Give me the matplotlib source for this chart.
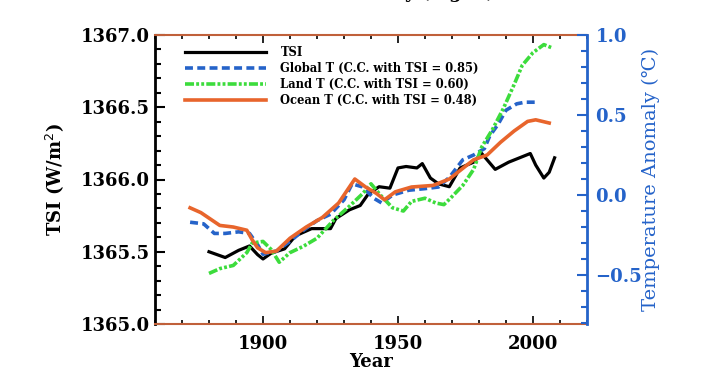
import matplotlib
matplotlib.use("Agg")
import matplotlib.pyplot as plt
from matplotlib.ticker import MultipleLocator

# TSI series (W/m^2)
tsi_years = [1880, 1886, 1891, 1895, 1898, 1900, 1903, 1908, 1912, 1918, 1922, 1925,
             1927, 1932, 1936, 1939, 1943, 1947, 1950, 1953, 1957, 1959, 1962, 1965,
             1969, 1973, 1978, 1981, 1986, 1991, 1995, 1999, 2001, 2004, 2006, 2008]
tsi_vals = [1365.50, 1365.46, 1365.51, 1365.54, 1365.48, 1365.45, 1365.49, 1365.52,
            1365.61, 1365.66, 1365.66, 1365.66, 1365.73, 1365.79, 1365.82, 1365.90,
            1365.95, 1365.94, 1366.08, 1366.09, 1366.08, 1366.11, 1366.01, 1365.97,
            1365.95, 1366.08, 1366.12, 1366.18, 1366.07, 1366.12, 1366.15, 1366.18,
            1366.10, 1366.01, 1366.05, 1366.15]

# temperature anomalies (deg C)
glob_years = [1873, 1878, 1882, 1886, 1891, 1895, 1898, 1900, 1905, 1910, 1915, 1920,
              1925, 1930, 1933, 1937, 1941, 1944, 1948, 1954, 1960, 1965, 1969, 1974,
              1978, 1982, 1984, 1987, 1990, 1994, 1997, 2001]
glob_vals = [-0.17, -0.18, -0.24, -0.24, -0.23, -0.24, -0.31, -0.37, -0.35, -0.29,
             -0.22, -0.16, -0.12, -0.03, 0.07, 0.05, -0.02, -0.05, 0.00, 0.03, 0.04,
             0.05, 0.11, 0.22, 0.25, 0.29, 0.37, 0.44, 0.53, 0.57, 0.58, 0.58]

land_years = [1880, 1884, 1889, 1894, 1896, 1900, 1903, 1906, 1910, 1915, 1920, 1926,
              1932, 1937, 1940, 1944, 1948, 1952, 1955, 1960, 1964, 1967, 1970, 1974,
              1978, 1981, 1985, 1989, 1993, 1996, 2000, 2004, 2007]
land_vals = [-0.49, -0.46, -0.44, -0.36, -0.30, -0.29, -0.34, -0.42, -0.36, -0.32,
             -0.27, -0.16, -0.07, 0.01, 0.07, -0.01, -0.08, -0.10, -0.04, -0.02, -0.05,
             -0.06, -0.01, 0.06, 0.16, 0.30, 0.41, 0.54, 0.69, 0.81, 0.89, 0.94, 0.92]

ocean_years = [1873, 1877, 1884, 1889, 1894, 1896, 1898, 1901, 1905, 1910, 1916, 1922,
               1928, 1934, 1938, 1942, 1945, 1949, 1955, 1963, 1969, 1975, 1978, 1983,
               1988, 1993, 1998, 2001, 2006]
ocean_vals = [-0.08, -0.11, -0.19, -0.20, -0.22, -0.28, -0.33, -0.36, -0.35, -0.27,
              -0.20, -0.14, -0.05, 0.10, 0.05, 0.01, -0.03, 0.02, 0.05, 0.06, 0.10,
              0.18, 0.22, 0.25, 0.33, 0.40, 0.46, 0.47, 0.45]

labels = ["TSI",
          "Global T (C.C. with TSI = 0.85)",
          "Land T (C.C. with TSI = 0.60)",
          "Ocean T (C.C. with TSI = 0.48)"]

blue = "#2563c9"
green = "#3cdc3c"
orange = "#e8652c"
frame_c = "#c0603a"
serif = ["DejaVu Serif"]

fig = plt.figure(figsize=(7.06, 3.91), dpi=100)
ax = fig.add_axes([155 / 706, 1 - 324 / 391, 432 / 706, 289 / 391])
ax2 = ax.twinx()

l0, = ax.plot(tsi_years, tsi_vals, color="black", lw=2.3)
l1, = ax2.plot(glob_years, glob_vals, color=blue, lw=2.6, ls=(0, (2.2, 1.2)))
l2, = ax2.plot(land_years, land_vals, color=green, lw=2.6, ls=(0, (2.5, 0.6, 0.8, 0.6, 0.8, 0.6)))
l3, = ax2.plot(ocean_years, ocean_vals, color=orange, lw=2.6)

ax.set_xlim(1860, 2020)
ax.set_ylim(1365.0, 1367.0)
ax2.set_ylim(-0.806, 1.0)

ax.xaxis.set_major_locator(MultipleLocator(50))
ax.xaxis.set_minor_locator(MultipleLocator(10))
ax.yaxis.set_major_locator(MultipleLocator(0.5))
ax.yaxis.set_minor_locator(MultipleLocator(0.1))
ax2.yaxis.set_major_locator(MultipleLocator(0.5))
ax2.yaxis.set_minor_locator(MultipleLocator(0.1))

ax.tick_params(axis="x", which="both", direction="in", top=True, colors="black", pad=8)
ax.tick_params(axis="x", which="major", length=6, width=1.2)
ax.tick_params(axis="x", which="minor", length=3, width=1.2)
ax.tick_params(axis="y", which="major", direction="in", length=7, width=1.5)
ax.tick_params(axis="y", which="minor", direction="in", length=4, width=1.5)
ax2.tick_params(axis="y", which="major", direction="in", length=7, width=1.5,
                colors=blue, labelcolor=blue, pad=6)
ax2.tick_params(axis="y", which="minor", direction="in", length=4, width=1.5, colors=blue)

ax.yaxis.set_major_formatter(matplotlib.ticker.FormatStrFormatter("%.1f"))
ax2.yaxis.set_major_formatter(matplotlib.ticker.FuncFormatter(
    lambda v, p: ("\u2212%.1f" % abs(v)) if v < -0.01 else "%.1f" % abs(v)))

for lab in ax.get_xticklabels() + ax.get_yticklabels():
    lab.set_family(serif)
    lab.set_weight("bold")
    lab.set_fontsize(13)
for lab in ax2.get_yticklabels():
    lab.set_family(serif)
    lab.set_weight("bold")
    lab.set_fontsize(13)

ax.spines["left"].set_linewidth(2.0)
ax.spines["left"].set_color("black")
ax2.spines["left"].set_visible(False)
ax2.spines["right"].set_color(blue)
ax2.spines["right"].set_linewidth(2.0)
ax.spines["right"].set_visible(False)
for s in ("top", "bottom"):
    ax.spines[s].set_color(frame_c)
    ax.spines[s].set_linewidth(1.5)
    ax2.spines[s].set_visible(False)

ax.set_xlabel("Year", family=serif, weight="bold", fontsize=13, labelpad=0)
ax.set_ylabel("TSI (W/m$^2$)", family=serif, weight="bold", fontsize=13, labelpad=11)
ax2.set_ylabel("Temperature Anomaly (\u2103)", family=serif, fontsize=14,
               color=blue, labelpad=0)

leg = ax2.legend([l0, l1, l2, l3], labels, loc="upper left",
                 bbox_to_anchor=(0.045, 0.998), frameon=False,
                 prop={"family": serif, "weight": "bold", "size": 8.3},
                 handlelength=7.0, handletextpad=1.3, labelspacing=0.25)

# clipped title remnant at the very top (only its lower edge shows)
fig.text(450 / 706, 1 + 2 / 391, "y (Fig. 1)", ha="center", va="baseline",
         family=serif, weight="bold", fontsize=13)

fig.savefig("out.png", dpi=100)
